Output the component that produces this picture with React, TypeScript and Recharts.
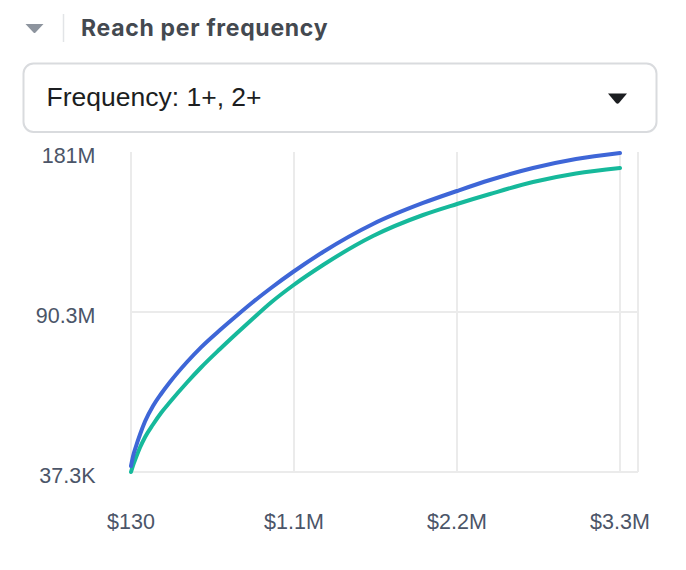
import React from "react";
import { LineChart, Line, XAxis, YAxis, CartesianGrid } from "recharts";

const costs = [130, 13600, 33900, 60900, 94600, 148600, 202600, 263300, 378000, 472500, 600700, 708700, 823400, 944900, 1093000, 1296000, 1633000, 1971000, 2200000, 2423000, 2713000, 3003000, 3300000];
const reachFreq1 = [3420000, 8840000, 14540000, 21200000, 28530000, 37280000, 44050000, 50820000, 62110000, 70400000, 80160000, 87950000, 95960000, 103860000, 112890000, 124180000, 139980000, 151830000, 158600000, 164800000, 171570000, 176650000, 180040000];
const reachFreq2 = [37300, 3700000, 8220000, 13860000, 19670000, 26840000, 33330000, 39540000, 50540000, 59000000, 69440000, 77900000, 86650000, 95680000, 105270000, 116840000, 133200000, 145050000, 151260000, 156900000, 163670000, 168470000, 171570000];

const xTicks = [130, 1100000, 2200000, 3300000];
const xTickLabels = ["$130", "$1.1M", "$2.2M", "$3.3M"];
const yTicks = [37300, 90318650, 180600000];
const yTickLabels = ["37.3K", "90.3M", "181M"];
const gridYValues = [37300, 90318650];

const data = costs.map((c, i) => ({ cost: c, f1: reachFreq1[i], f2: reachFreq2[i] }));

const tickFont = "'Liberation Sans', Arial, Helvetica, sans-serif";
const tickColor = "#4b5568";

const XTick = (props: any) => {
  const { x, y, payload } = props;
  const idx = xTicks.indexOf(payload.value);
  return (
    <text x={x} y={y + 57} textAnchor="middle" fill={tickColor} fontSize={21.5} fontFamily={tickFont}>
      {idx >= 0 ? xTickLabels[idx] : ""}
    </text>
  );
};

const YTick = (props: any) => {
  const { x, y, payload } = props;
  const idx = yTicks.indexOf(payload.value);
  return (
    <text x={x - 35.5} y={y + 11} textAnchor="end" fill={tickColor} fontSize={21.5} fontFamily={tickFont}>
      {idx >= 0 ? yTickLabels[idx] : ""}
    </text>
  );
};

export default function App() {
  return (
    <div style={{ position: "absolute", left: 0, top: 0, width: 686, height: 570, background: "#fff" }}>
      <svg width={686} height={140} style={{ position: "absolute", left: 0, top: 0 }}>
        <path d="M25.5 24 L43.5 24 L35.5 32.5 Q34.5 33.5 33.5 32.5 Z" fill="#8d949e" />
        <line x1={63.5} y1={14} x2={63.5} y2={42} stroke="#e2e4e7" strokeWidth={1.5} />
        <text x={81} y={36} fill="#444950" fontSize={23} fontWeight={700} letterSpacing={0.7} fontFamily="Inter, 'Noto Sans', sans-serif">
          Reach per frequency
        </text>
        <rect x={23.5} y={63.5} width={633} height={68.5} rx={10} ry={10} fill="#fff" stroke="#d9dbde" strokeWidth={2} />
        <text x={46.5} y={106} fill="#1c1e21" fontSize={26.5} fontFamily="'Liberation Sans', Arial, sans-serif">
          Frequency: 1+, 2+
        </text>
        <path d="M608 93.5 L627 93.5 L619 103 Q617.5 104.5 616 103 Z" fill="#1c1e21" />
      </svg>
      <LineChart
        width={686}
        height={570}
        data={data}
        margin={{ top: 152, right: 48, bottom: 0, left: 0 }}
        style={{ position: "absolute", left: 0, top: 0 }}
      >
        <CartesianGrid stroke="#ebebeb" strokeWidth={2} horizontalValues={gridYValues} />
        <XAxis
          dataKey="cost"
          type="number"
          domain={[130, 3300000]}
          ticks={xTicks}
          interval={0}
          padding={{ left: 0, right: 18 }}
          height={98}
          tickLine={false}
          axisLine={false}
          tickSize={0}
          tickMargin={0}
          tick={<XTick />}
        />
        <YAxis
          type="number"
          domain={[37300, 180600000]}
          ticks={yTicks}
          interval={0}
          width={131}
          tickLine={false}
          axisLine={false}
          tickSize={0}
          tickMargin={0}
          tick={<YTick />}
        />
        <Line type="monotone" dataKey="f2" stroke="#16b99b" strokeWidth={4} dot={false} isAnimationActive={false} strokeLinecap="round" />
        <Line type="monotone" dataKey="f1" stroke="#3e66d7" strokeWidth={4} dot={false} isAnimationActive={false} strokeLinecap="round" />
      </LineChart>
    </div>
  );
}
